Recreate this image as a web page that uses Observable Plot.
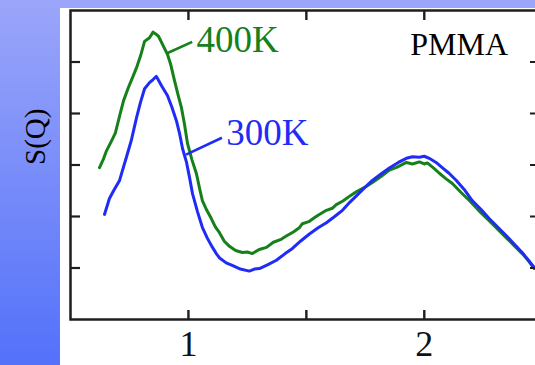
<!DOCTYPE html>
<html>
<head>
<meta charset="utf-8">
<script src="https://cdn.jsdelivr.net/npm/d3@7"></script>
<script src="https://cdn.jsdelivr.net/npm/@observablehq/plot@0.6"></script>
<style>
  html, body { margin: 0; padding: 0; width: 535px; height: 365px; overflow: hidden; }
  body { position: relative; background: linear-gradient(to bottom, #9ba6f9, #5371fa); }
  #sheet { position: absolute; left: 60px; top: 8px; right: 0; bottom: 0; background: #fff; }
  #chart { position: absolute; left: 0; top: 0; width: 540px; }
  #chart svg { max-width: none !important; }
  #chart svg, #chart svg text { font-family: "Times New Roman", "Liberation Serif", "DejaVu Serif", serif !important; }
</style>
</head>
<body>
<div id="sheet"></div>
<div id="chart"></div>
<script>
// Structure factor S(Q) of PMMA at two temperatures
const q400 = [0.623,0.640,0.653,0.672,0.690,0.708,0.725,0.745,0.765,0.780,0.797,0.814,0.835,0.850,0.860,0.873,0.886,0.900,0.911,0.925,0.941,0.955,0.970,0.983,0.996,1.015,1.034,1.047,1.059,1.078,1.097,1.114,1.131,1.152,1.174,1.200,1.229,1.250,1.271,1.300,1.331,1.360,1.390,1.415,1.445,1.470,1.483,1.510,1.535,1.555,1.585,1.610,1.627,1.655,1.685,1.712,1.745,1.780,1.815,1.852,1.885,1.924,1.950,1.979,2.000,2.013,2.040,2.064,2.090,2.119,2.155,2.191,2.230,2.275,2.310,2.347,2.380,2.415,2.440,2.466];
const s400 = [2.95,3.12,3.28,3.45,3.62,3.95,4.25,4.50,4.72,4.89,5.12,5.40,5.47,5.58,5.55,5.50,5.38,5.25,5.15,4.95,4.64,4.38,4.12,3.80,3.42,3.10,2.83,2.55,2.31,2.12,1.96,1.80,1.69,1.52,1.42,1.34,1.30,1.31,1.28,1.36,1.40,1.50,1.55,1.62,1.70,1.78,1.86,1.90,1.98,2.04,2.12,2.16,2.23,2.30,2.40,2.48,2.56,2.66,2.77,2.90,2.96,3.05,3.02,3.06,3.02,3.04,2.94,2.84,2.74,2.64,2.47,2.31,2.12,1.92,1.76,1.59,1.44,1.28,1.15,0.99];

const q300 = [0.644,0.655,0.665,0.685,0.708,0.722,0.737,0.758,0.770,0.780,0.797,0.814,0.835,0.850,0.864,0.875,0.886,0.911,0.930,0.949,0.962,0.975,0.992,1.005,1.017,1.038,1.059,1.080,1.102,1.118,1.131,1.160,1.186,1.220,1.258,1.280,1.301,1.335,1.373,1.410,1.441,1.475,1.513,1.550,1.585,1.620,1.653,1.685,1.712,1.745,1.780,1.815,1.852,1.890,1.924,1.950,1.979,2.000,2.021,2.050,2.076,2.105,2.136,2.170,2.203,2.240,2.275,2.310,2.347,2.380,2.415,2.440,2.466];
const s300 = [2.04,2.20,2.35,2.52,2.70,2.92,3.15,3.48,3.72,3.92,4.22,4.48,4.60,4.66,4.72,4.63,4.54,4.35,4.12,3.86,3.62,3.32,3.05,2.75,2.45,2.10,1.79,1.58,1.40,1.28,1.20,1.10,1.05,0.98,0.94,0.98,0.99,1.06,1.15,1.28,1.38,1.52,1.66,1.78,1.88,2.00,2.12,2.28,2.40,2.55,2.70,2.82,2.94,3.05,3.13,3.16,3.15,3.17,3.13,3.05,2.95,2.84,2.70,2.52,2.31,2.14,1.96,1.80,1.63,1.47,1.30,1.16,1.01];

const seriesNames = ["400K", "300K"];
const xTicks = [1, 1.5, 2];
const xTickLabels = [1, 2];
const yTicks = [1, 2, 3, 4, 5];
const sampleName = "PMMA";
const yTitle = "S(Q)";

const green = "#16801a";
const blue = "#1f2cf6";
const axisInk = "#1e1e1e";
const serif = "Times New Roman, Liberation Serif, DejaVu Serif, serif";

const curve400 = q400.map((q, i) => ({q, s: s400[i]}));
const curve300 = q300.map((q, i) => ({q, s: s300[i]}));

// series labels with their leader lines back to the curves
const tags = [
  {name: seriesNames[0], q: 1.034, s: 5.42, fill: green},
  {name: seriesNames[1], q: 1.160, s: 3.61, fill: blue}
];
const leaders = [
  {q1: 0.905, s1: 5.16, q2: 1.016, s2: 5.39, stroke: green},
  {q1: 0.990, s1: 3.20, q2: 1.142, s2: 3.53, stroke: blue}
];

const frameHeight = 365 - 10 - 46;

const chart = Plot.plot({
  width: 540,
  height: 365,
  marginLeft: 70,
  marginRight: 3,
  marginTop: 10,
  marginBottom: 46,
  x: {domain: [0.5, 2.48]},
  y: {domain: [0, 6]},
  style: {background: "transparent", color: "#111", maxWidth: "none"},
  marks: [
    Plot.line(curve400, {x: "q", y: "s", stroke: green, strokeWidth: 3}),
    Plot.line(curve300, {x: "q", y: "s", stroke: blue, strokeWidth: 3}),
    Plot.link(leaders, {x1: "q1", y1: "s1", x2: "q2", y2: "s2", stroke: "stroke", strokeWidth: 2.6}),
    Plot.text(tags, {x: "q", y: "s", text: "name", fill: "fill", textAnchor: "start", fontSize: 37, fontFamily: serif}),
    Plot.text([sampleName], {x: 2.148, y: 5.34, text: d => d, fill: "#000", fontSize: 32, fontFamily: serif}),
    Plot.frame({stroke: axisInk, strokeWidth: 2.5}),
    // inward ticks standing on the bottom edge and hanging from the top edge
    Plot.tickX(xTicks, {x: d => d, insetTop: frameHeight - 9, stroke: axisInk, strokeWidth: 2.4}),
    Plot.tickX(xTicks, {x: d => d, insetBottom: frameHeight - 10, stroke: axisInk, strokeWidth: 2.4}),
    Plot.axisX(xTickLabels, {anchor: "bottom", tickSize: 0, tickPadding: 11, fontSize: 36, fontFamily: serif, tickFormat: d => String(d), label: null, fill: "#111"}),
    Plot.axisY(yTicks, {anchor: "left", tickSize: -10, tickFormat: () => "", label: null, stroke: axisInk, strokeWidth: 2.2}),
    Plot.axisY(yTicks, {anchor: "right", tickSize: -8, tickFormat: () => "", label: null, stroke: axisInk, strokeWidth: 2}),
    Plot.text([yTitle], {frameAnchor: "left", dx: -35, rotate: -90, text: d => d, fill: "#000", fontSize: 29, fontFamily: serif})
  ]
});

document.getElementById("chart").appendChild(chart);
</script>
</body>
</html>
